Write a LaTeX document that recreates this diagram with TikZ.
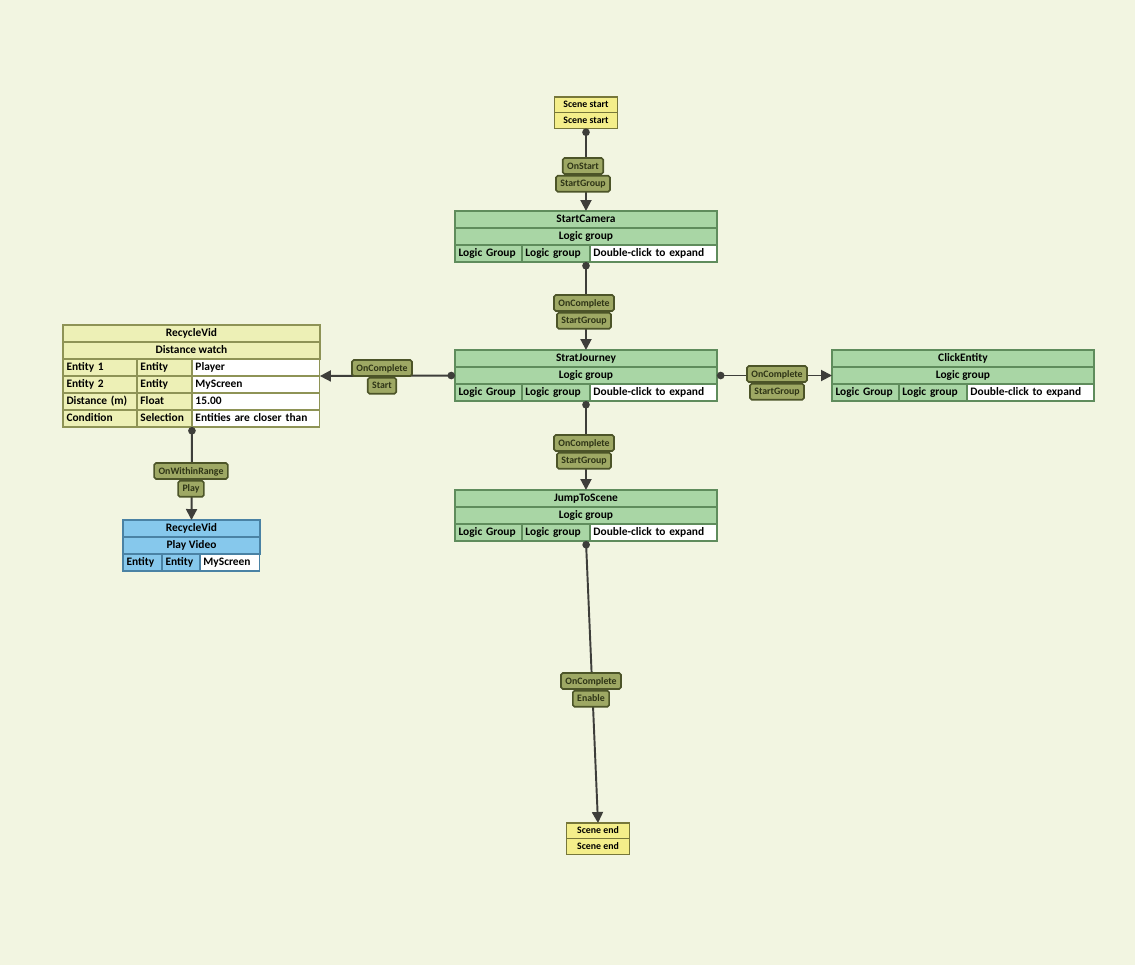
\documentclass[tikz,border=0pt]{standalone}
\usepackage{fontspec}
\setmainfont{Carlito}
\usepackage{xcolor}
\usetikzlibrary{arrows.meta,positioning}

\definecolor{bgc}{HTML}{F2F5E1}
\definecolor{scc}{HTML}{F4EE8A}
\definecolor{scd}{HTML}{77773A}
\definecolor{grpc}{HTML}{A9D6A5}
\definecolor{grpd}{HTML}{5F8C5C}
\definecolor{rvc}{HTML}{EDF0B6}
\definecolor{rvd}{HTML}{8E9356}
\definecolor{pvc}{HTML}{86C8EC}
\definecolor{pvd}{HTML}{4A82A4}
\definecolor{lblc}{HTML}{9EA864}
\definecolor{lbld}{HTML}{4C5428}
\definecolor{lblt}{HTML}{2E3416}
\definecolor{linec}{HTML}{3E3E3A}

\newcommand{\dfont}{\fontsize{6.5}{7.5}\selectfont\bfseries}
\newcommand{\lfont}{\fontsize{5.6}{6.5}\selectfont\bfseries}

% logic group box: name, north west corner, title
\newcommand{\grpbox}[3]{%
  \node[hdr,fill=grpc,draw=grpd,minimum width=5.24cm,anchor=north west] (#1) at (#2) {#3};
  \node[hdr,fill=grpc,draw=grpd,minimum width=5.24cm,below=0pt of #1] (#1-sub) {Logic group};
  \node[cell=34.1pt,fill=grpc,draw=grpd,anchor=north west] (#1-a) at (#1-sub.south west) {Logic Group};
  \node[cell=34.7pt,fill=grpc,draw=grpd,right=0pt of #1-a] (#1-b) {Logic group};
  \node[cell=68.3pt,fill=white,draw=grpd,right=0pt of #1-b] (#1-c) {Double-click to expand};
}

\begin{document}
\begin{tikzpicture}[
  x=0.02cm,y=-0.02cm,
  hdr/.style={outer sep=0pt,inner sep=0pt,minimum height=0.34cm,text height=1.7mm,text depth=0.5mm,font=\dfont,line width=0.7pt},
  cell/.style={outer sep=0pt,inner xsep=2pt,inner ysep=0pt,minimum height=0.34cm,text width=#1,align=left,text height=1.7mm,text depth=0.5mm,font=\dfont,line width=0.7pt},
  scene/.style={draw=scd,fill=scc,outer sep=0pt,inner sep=0pt,minimum width=1.26cm,minimum height=0.315cm,text height=1.6mm,text depth=0.4mm,font=\lfont,line width=0.7pt},
  evt/.style={draw=lbld,fill=lblc,text=lblt,rounded corners=1pt,line width=0.9pt,outer sep=0pt,inner xsep=2.5pt,inner ysep=0pt,minimum height=0.32cm,text height=1.6mm,text depth=0.4mm,font=\lfont},
  link/.style={draw=linec,line width=1.1pt,{Circle[length=1.5mm]}-{Triangle[length=2.2mm,width=2.2mm]}}
]
\fill[bgc] (0,0) rectangle (1135,965);

% scene start / end
\node[scene,anchor=north] (ss1) at (586,97) {Scene start};
\node[scene,below=0pt of ss1] (ss2) {Scene start};
\node[scene,anchor=north] (se1) at (598,823) {Scene end};
\node[scene,below=0pt of se1] (se2) {Scene end};

% logic groups
\grpbox{cam}{455,211}{StartCamera}
\grpbox{jrn}{455,350}{StratJourney}
\grpbox{jmp}{455,490}{JumpToScene}
\grpbox{clk}{832,350}{ClickEntity}

% distance watch
\node[hdr,fill=rvc,draw=rvd,minimum width=5.14cm,anchor=north west] (rv) at (63,325) {RecycleVid};
\node[hdr,fill=rvc,draw=rvd,minimum width=5.14cm,below=0pt of rv] (rv-sub) {Distance watch};
\node[cell=38.1pt,fill=rvc,draw=rvd,anchor=north west] (rv1a) at (rv-sub.south west) {Entity 1};
\node[cell=27.3pt,fill=rvc,draw=rvd,right=0pt of rv1a] (rv1b) {Entity};
\node[cell=68.8pt,fill=white,draw=rvd,right=0pt of rv1b] (rv1c) {Player};
\node[cell=38.1pt,fill=rvc,draw=rvd,below=0pt of rv1a] (rv2a) {Entity 2};
\node[cell=27.3pt,fill=rvc,draw=rvd,right=0pt of rv2a] (rv2b) {Entity};
\node[cell=68.8pt,fill=white,draw=rvd,right=0pt of rv2b] (rv2c) {MyScreen};
\node[cell=38.1pt,fill=rvc,draw=rvd,below=0pt of rv2a] (rv3a) {Distance (m)};
\node[cell=27.3pt,fill=rvc,draw=rvd,right=0pt of rv3a] (rv3b) {Float};
\node[cell=68.8pt,fill=white,draw=rvd,right=0pt of rv3b] (rv3c) {15.00};
\node[cell=38.1pt,fill=rvc,draw=rvd,below=0pt of rv3a] (rv4a) {Condition};
\node[cell=27.3pt,fill=rvc,draw=rvd,right=0pt of rv4a] (rv4b) {Selection};
\node[cell=68.8pt,fill=white,draw=rvd,right=0pt of rv4b] (rv4c) {Entities are closer than};

% play video
\node[hdr,fill=pvc,draw=pvd,minimum width=2.74cm,anchor=north west] (pv) at (123,520) {RecycleVid};
\node[hdr,fill=pvc,draw=pvd,minimum width=2.74cm,below=0pt of pv] (pv-sub) {Play Video};
\node[cell=18.2pt,fill=pvc,draw=pvd,anchor=north west] (pv-a) at (pv-sub.south west) {Entity};
\node[cell=17.6pt,fill=pvc,draw=pvd,right=0pt of pv-a] (pv-b) {Entity};
\node[cell=30.1pt,fill=white,draw=pvd,right=0pt of pv-b] (pv-c) {MyScreen};

% connectors
\draw[link] (ss2.south) -- (cam.north);
\draw[link] (cam.north |- cam-a.south) -- (jrn.north);
\draw[link] (jrn.north |- jrn-a.south) -- (jmp.north);
\draw[link] (jrn-sub.west) -- (rv1c.south east);
\draw[link] (jrn-sub.east) -- (clk-sub.west);
\draw[link] (rv4b.south east) -- (pv.north);
\draw[link] (jmp.north |- jmp-a.south) -- (se1.north);

% event / action labels
\node[evt] (ev1) at (583,166) {OnStart};
\node[evt,below=1pt of ev1] (ac1) {StartGroup};
\node[evt] (ev2) at (584,303) {OnComplete};
\node[evt,below=1pt of ev2] (ac2) {StartGroup};
\node[evt] (ev3) at (584,443) {OnComplete};
\node[evt,below=1pt of ev3] (ac3) {StartGroup};
\node[evt] (ev4) at (382,368) {OnComplete};
\node[evt,below=1pt of ev4] (ac4) {Start};
\node[evt] (ev5) at (777,374) {OnComplete};
\node[evt,below=1pt of ev5] (ac5) {StartGroup};
\node[evt] (ev6) at (191,471) {OnWithinRange};
\node[evt,below=1pt of ev6] (ac6) {Play};
\node[evt] (ev7) at (591,681) {OnComplete};
\node[evt,below=1pt of ev7] (ac7) {Enable};
\end{tikzpicture}
\end{document}
